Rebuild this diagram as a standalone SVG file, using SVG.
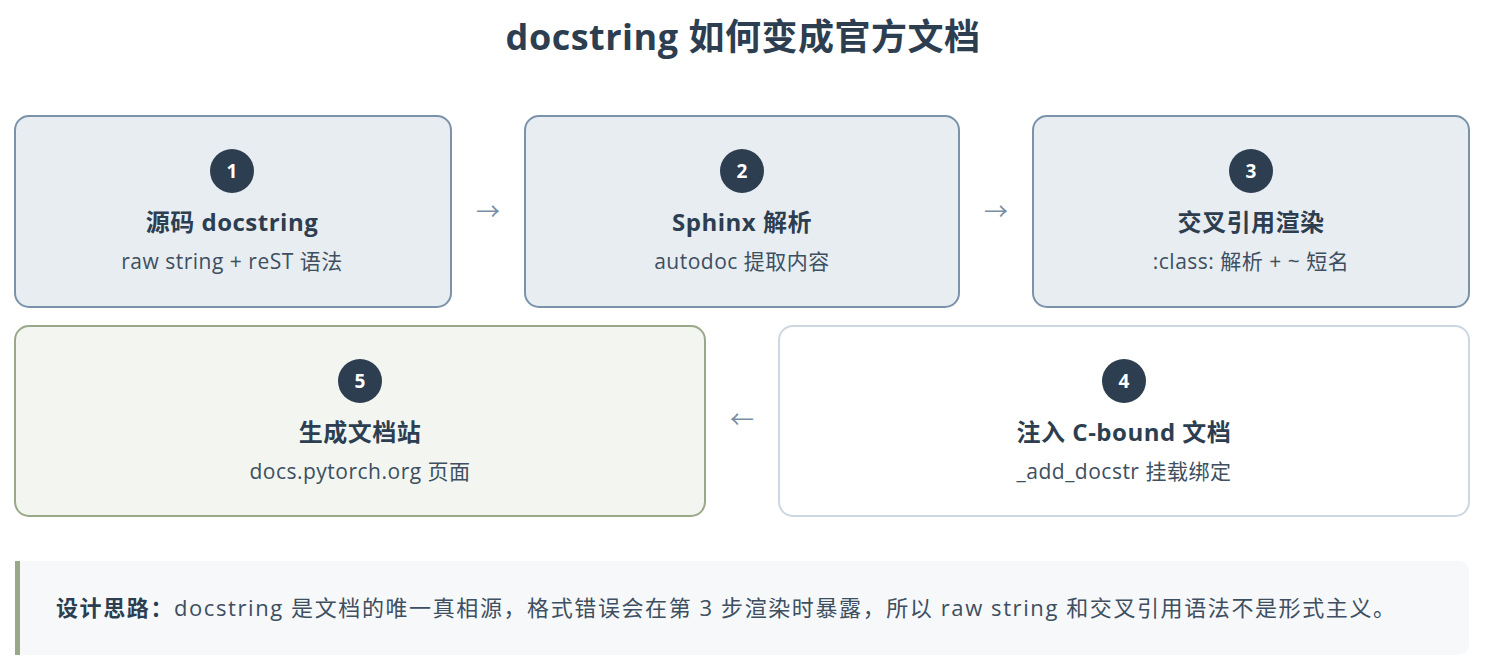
<svg xmlns="http://www.w3.org/2000/svg" width="1486" height="668" viewBox="0 0 1486 668">
<style>
text{font-family:"Open Sans","Noto Sans CJK SC",sans-serif;text-anchor:middle;fill:#2c3e50}
.t{font-size:24px;font-weight:bold;letter-spacing:0.5px}
.s{font-size:21px;fill:#3d4f60;letter-spacing:0.5px}
.n{font-size:19px;font-weight:bold;fill:#fff}
.a{font-size:24px;fill:#7a8fa3}
.blue{fill:#e8edf2;stroke:#7a93aa;stroke-width:2}
.green{fill:#f3f6f0;stroke:#9aa88a;stroke-width:2}
.white{fill:#fff;stroke:#ccd7e0;stroke-width:2}
circle{fill:#2c3e50}
</style>
<rect width="1486" height="668" fill="#fff"/>
<text x="743" y="50" style="font-size:36px;font-weight:bold;letter-spacing:0.5px">docstring 如何变成官方文档</text>
<g id="n1"><rect class="blue" x="15" y="116" width="436" height="191" rx="14"/><circle cx="232" cy="171" r="22"/><text class="n" x="232" y="178">1</text><text class="t" x="232" y="231">源码 docstring</text><text class="s" x="232" y="269">raw string + reST 语法</text></g>
<g id="n2"><rect class="blue" x="525" y="116" width="434" height="191" rx="14"/><circle cx="742" cy="171" r="22"/><text class="n" x="742" y="178">2</text><text class="t" x="742" y="231">Sphinx 解析</text><text class="s" x="742" y="269">autodoc 提取内容</text></g>
<g id="n3"><rect class="blue" x="1033" y="116" width="436" height="191" rx="14"/><circle cx="1251" cy="171" r="22"/><text class="n" x="1251" y="178">3</text><text class="t" x="1251" y="231">交叉引用渲染</text><text class="s" x="1251" y="269">:class: 解析 + ~ 短名</text></g>
<g id="n5"><rect class="green" x="15" y="326" width="690" height="190" rx="14"/><circle cx="360" cy="381" r="22"/><text class="n" x="360" y="388">5</text><text class="t" x="360" y="441">生成文档站</text><text class="s" x="360" y="479">docs.pytorch.org 页面</text></g>
<g id="n4"><rect class="white" x="779" y="326" width="690" height="190" rx="14"/><circle cx="1124" cy="381" r="22"/><text class="n" x="1124" y="388">4</text><text class="t" x="1124" y="441">注入 C-bound 文档</text><text class="s" x="1124" y="479">_add_docstr 挂载绑定</text></g>
<g id="connectors"><text class="a" x="488" y="220">→</text><text class="a" x="996" y="220">→</text><text class="a" x="742" y="428">←</text></g>
<g id="note"><rect x="15" y="561" width="1454" height="94" rx="10" fill="#f6f8fa"/><rect x="15" y="561" width="5" height="94" fill="#9aa88a"/>
<text x="56" y="616" textLength="1339" lengthAdjust="spacing" style="font-size:22px;text-anchor:start;fill:#3d4f60"><tspan style="font-weight:bold;fill:#2c3e50">设计思路：</tspan>docstring 是文档的唯一真相源，格式错误会在第 3 步渲染时暴露，所以 raw string 和交叉引用语法不是形式主义。</text></g>
</svg>
